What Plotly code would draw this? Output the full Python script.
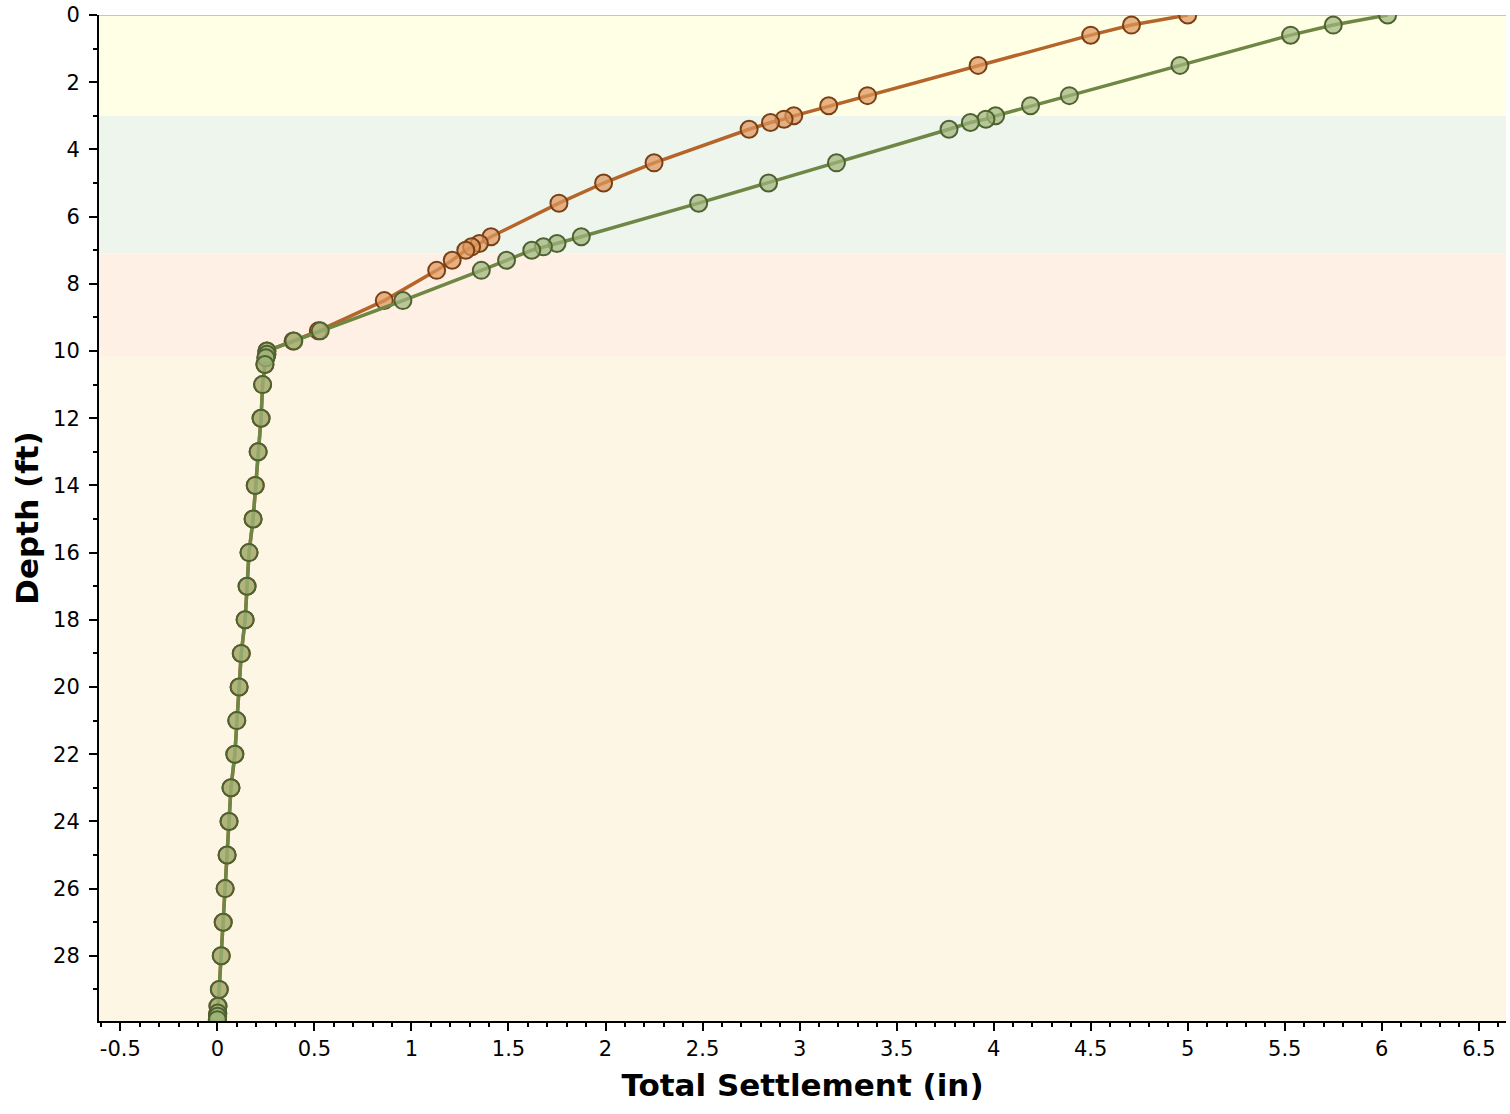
import plotly.graph_objects as go

depth_ft = [0, 0.3, 0.6, 1.5, 2.4, 2.7, 3.0, 3.1, 3.2, 3.4, 4.4, 5.0, 5.6, 6.6, 6.8, 6.9, 7.0,
            7.3, 7.6, 8.5, 9.4, 9.7, 10.0, 10.1, 10.2, 10.4, 11, 12, 13, 14, 15, 16, 17, 18,
            19, 20, 21, 22, 23, 24, 25, 26, 27, 28, 29, 29.5, 29.7, 29.8, 29.9]

lower_settlement = [0.255, 0.255, 0.25, 0.245, 0.233, 0.225, 0.21, 0.195, 0.184, 0.163, 0.153,
                    0.143, 0.123, 0.112, 0.10, 0.09, 0.07, 0.06, 0.05, 0.04, 0.03, 0.02, 0.01,
                    0.003, 0.002, 0.001, 0.0]

settlement_a = [5.00, 4.71, 4.50, 3.92, 3.35, 3.15, 2.97, 2.92, 2.85, 2.74, 2.25, 1.99, 1.76,
                1.41, 1.35, 1.31, 1.28, 1.21, 1.13, 0.86, 0.52, 0.39] + lower_settlement

settlement_b = [6.03, 5.75, 5.53, 4.96, 4.39, 4.19, 4.01, 3.96, 3.88, 3.77, 3.19, 2.84, 2.48,
                1.875, 1.75, 1.68, 1.62, 1.49, 1.36, 0.956, 0.53, 0.394] + lower_settlement

layer_tops = [0, 3.0, 7.1, 10.15]
layer_bottoms = [3.0, 7.1, 10.15, 30]
layer_colors = ["#FFFFE6", "#EEF5ED", "#FEF0E5", "#FDF6E5"]

x_tick_vals = [-0.5, 0, 0.5, 1, 1.5, 2, 2.5, 3, 3.5, 4, 4.5, 5, 5.5, 6, 6.5]
x_tick_text = ["-0.5", "0", "0.5", "1", "1.5", "2", "2.5", "3", "3.5", "4", "4.5", "5", "5.5", "6", "6.5"]

x_range = [-0.61, 6.64]
y_range = [29.94, 0]

FONT = "Verdana, DejaVu Sans, sans-serif"

fig = go.Figure()

for top, bot, col in zip(layer_tops, layer_bottoms, layer_colors):
    fig.add_shape(type="rect", xref="paper", yref="y", x0=0, x1=1, y0=top, y1=bot,
                  fillcolor=col, line_width=0, layer="below")

fig.add_shape(type="line", xref="paper", yref="y", x0=0, x1=1, y0=0, y1=0,
              line=dict(color="#C9C9A6", width=2), layer="below")

fig.add_trace(go.Scatter(
    x=settlement_a, y=depth_ft, mode="lines+markers",
    line=dict(color="#B5652A", width=3.5),
    marker=dict(size=17, color="rgba(222,150,92,0.72)",
                line=dict(color="#7A4015", width=2)),
    showlegend=False,
))

fig.add_trace(go.Scatter(
    x=settlement_b, y=depth_ft, mode="lines+markers",
    line=dict(color="#6F8744", width=3.5),
    marker=dict(size=17, color="rgba(160,180,122,0.72)",
                line=dict(color="#4E6130", width=2)),
    showlegend=False,
))

fig.update_layout(
    width=1510, height=1114,
    margin=dict(l=99, r=4, t=15, b=93),
    paper_bgcolor="white", plot_bgcolor="white",
    font=dict(family=FONT, color="black", size=21),
    showlegend=False,
)

fig.update_xaxes(
    range=x_range, tickvals=x_tick_vals, ticktext=x_tick_text,
    showgrid=False, zeroline=False, automargin=False,
    showline=True, linecolor="black", linewidth=2,
    ticks="outside", ticklen=8, tickwidth=2, tickcolor="black",
    minor=dict(dtick=0.1, tick0=0, ticks="outside", ticklen=4, tickwidth=2, tickcolor="black", showgrid=False),
    tickfont=dict(size=21, family=FONT), ticklabeloverflow="allow",
    title=dict(text="<b>Total Settlement (in)</b>", font=dict(size=31, family=FONT), standoff=14),
)

fig.update_yaxes(
    range=y_range, dtick=2, tick0=0,
    showgrid=False, zeroline=False, automargin=False,
    showline=True, linecolor="black", linewidth=2,
    ticks="outside", ticklen=8, tickwidth=2, tickcolor="black",
    minor=dict(dtick=1, tick0=0, ticks="outside", ticklen=4, tickwidth=2, tickcolor="black", showgrid=False),
    tickfont=dict(size=21, family=FONT), ticklabeloverflow="allow", ticklabelstandoff=5,
    title=dict(text="<b>Depth (ft)</b>", font=dict(size=31, family=FONT), standoff=5),
)

# remove the browser's default 8px body margin so the figure sits at the page's top-left corner
fig.write_html("out.html", config={"displayModeBar": False},
               post_script="document.body.style.margin='0';")
